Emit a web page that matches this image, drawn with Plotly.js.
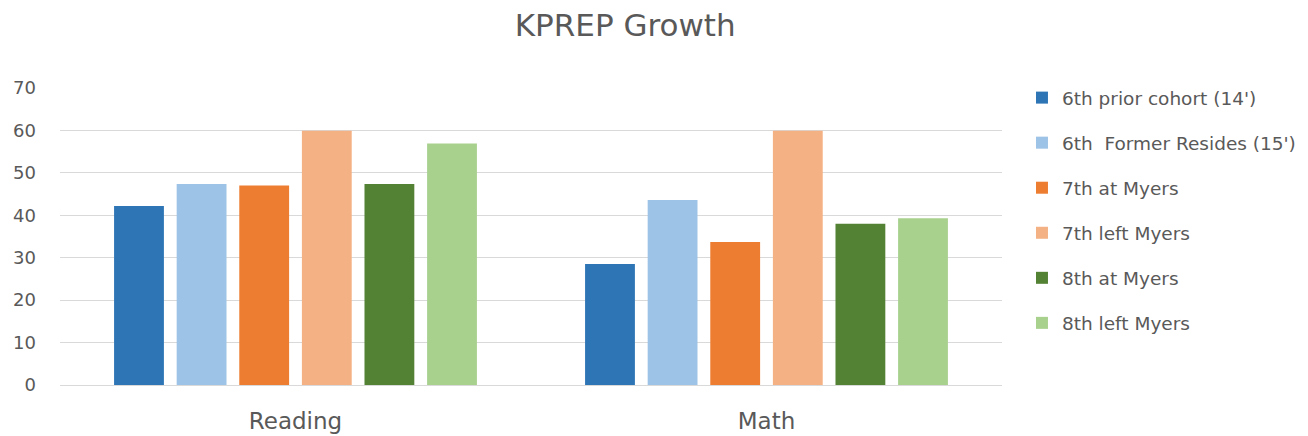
<!DOCTYPE html>
<html>
<head>
<meta charset="utf-8">
<script src="https://cdn.plot.ly/plotly-3.0.1.min.js"></script>
<style>html,body{margin:0;padding:0;background:#fff;}#chart{width:1308px;height:436px;}</style>
</head>
<body>
<div id="chart"></div>
<script>
const categories = ["Reading", "Math"];
const seriesNames = ["6th prior cohort (14')", "6th\u00a0 Former Resides (15')", "7th at Myers", "7th left Myers", "8th at Myers", "8th left Myers"];
const prior6 = [42.2, 28.5];
const former6 = [47.4, 43.6];
const atMyers7 = [47.0, 33.7];
const leftMyers7 = [59.9, 59.9];
const atMyers8 = [47.4, 38.0];
const leftMyers8 = [56.9, 39.3];
const yTicks = [0, 10, 20, 30, 40, 50, 60, 70];
const colors = ["#2E75B6", "#9DC3E6", "#ED7D31", "#F4B183", "#548235", "#A9D18E"];

const allSeries = [prior6, former6, atMyers7, leftMyers7, atMyers8, leftMyers8];
const traces = allSeries.map((vals, i) => ({
  type: "bar",
  name: seriesNames[i],
  x: categories,
  y: vals,
  legendgroup: "g" + i,
  marker: {color: colors[i], line: {width: 0}},
  hoverinfo: "x+y+name"
}));

const FONT = "'DejaVu Sans', sans-serif";
const layout = {
  width: 1308,
  height: 436,
  paper_bgcolor: "#ffffff",
  plot_bgcolor: "#ffffff",
  font: {family: FONT, color: "#595959", size: 18},
  title: {text: "KPREP Growth", x: 0.478, xanchor: "center", y: 0.943, yanchor: "middle",
          font: {size: 31, color: "#595959", family: FONT}},
  margin: {l: 60, r: 306, t: 88, b: 51, pad: 0, autoexpand: false},
  barmode: "group",
  bargap: 0.2025,
  bargroupgap: 0.204,
  xaxis: {
    type: "category",
    showgrid: false,
    showline: false,
    zeroline: false,
    ticks: "",
    tickfont: {size: 23, color: "#595959", family: FONT},
    ticklabelstandoff: 20
  },
  yaxis: {
    range: [0, 70],
    tickvals: yTicks,
    ticktext: yTicks.map(String),
    showgrid: true,
    gridcolor: "#D9D9D9",
    gridwidth: 1,
    zeroline: true,
    zerolinecolor: "#D9D9D9",
    zerolinewidth: 1,
    showline: false,
    ticks: "",
    tickfont: {size: 18, color: "#595959", family: FONT},
    ticklabelstandoff: 23
  },
  legend: {
    x: 1.0212,
    xanchor: "left",
    y: 1.03,
    yanchor: "top",
    tracegroupgap: 18,
    maxheight: 420,
    font: {size: 18.5, color: "#595959", family: FONT},
    bgcolor: "rgba(0,0,0,0)",
    itemwidth: 30
  },
  showlegend: true
};

Plotly.newPlot("chart", traces, layout, {displayModeBar: false, staticPlot: true});
</script>
</body>
</html>
